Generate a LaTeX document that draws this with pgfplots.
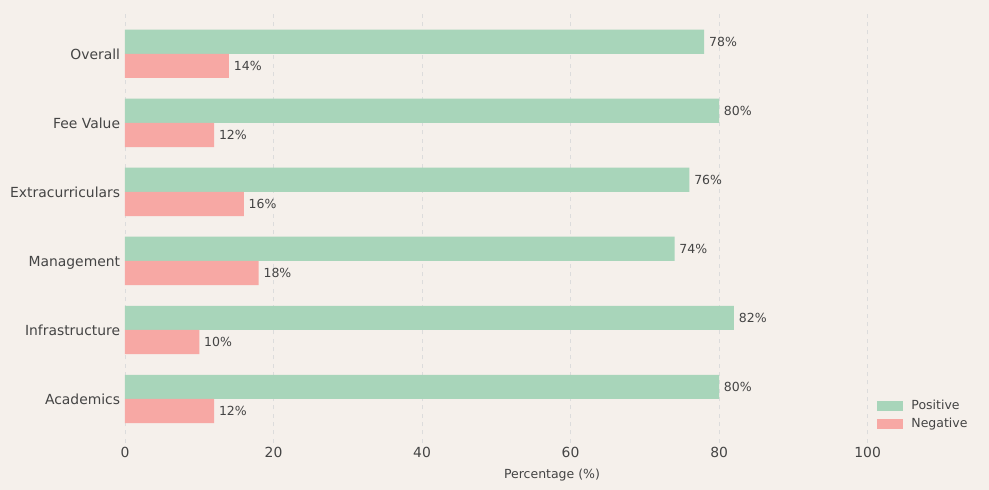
\documentclass[border=0pt]{standalone}
\usepackage{fontspec}
\setmainfont{DejaVu Sans}
\usepackage{pgfplots}
\pgfplotsset{compat=1.18}
\usetikzlibrary{backgrounds}
\definecolor{bgc}{HTML}{F5F0EB}
\definecolor{pos}{HTML}{A8D5BA}
\definecolor{neg}{HTML}{F7A8A4}
\definecolor{txt}{HTML}{444444}
\definecolor{gridc}{HTML}{DCDCDC}
\begin{document}
\begin{tikzpicture}
\begin{axis}[
  scale only axis, width=614.9pt, height=311.6pt,
  xmin=0, xmax=115, ymin=-0.635, ymax=5.635,
  xbar, bar width=0.35,
  axis line style={draw=none},
  major tick length=0pt,
  xtick={0,20,...,100},
  ytick={0,...,5},
  yticklabels={Academics,Infrastructure,Management,Extracurriculars,Fee Value,Overall},
  xmajorgrids, grid style={dashed, gridc, line width=0.6pt},
  ticklabel style={font=\fontsize{10}{12}\selectfont, text=txt},
  yticklabel style={text height=7.3pt, text depth=2.2pt, yshift=-1.4pt},
  /pgf/number format/assume math mode=true,
  xlabel={Percentage (\%)},
  xlabel style={font=\fontsize{9}{11}\selectfont, text=txt, yshift=-0.9pt},
  nodes near coords={\pgfmathprintnumber{\pgfplotspointmeta}\%},
  nodes near coords style={font=\fontsize{9}{11}\selectfont, text=txt, anchor=west},
  legend style={draw=none, fill=none, at={(0.995,0.016)}, anchor=south east,
    font=\fontsize{9}{11}\selectfont, text=txt, row sep=1pt,
    nodes={inner sep=2pt},
    /tikz/every odd column/.append style={column sep=4pt}},
  legend cell align=left,
  legend image code/.code={\fill[#1] (0pt,-3.6pt) rectangle (18.7pt,3.6pt);},
  clip=false,
]
\addplot[fill=pos, draw=none, bar shift=0.175] coordinates {(80,0) (82,1) (74,2) (76,3) (80,4) (78,5)};
\addlegendentry{Positive}
\addplot[fill=neg, draw=none, bar shift=-0.175] coordinates {(12,0) (10,1) (18,2) (16,3) (12,4) (14,5)};
\addlegendentry{Negative}
\coordinate (BL) at (rel axis cs:0,0);
\coordinate (TR) at (rel axis cs:1,1);
\end{axis}
\begin{pgfonlayer}{background}
\fill[bgc] ([shift={(-90pt,-34pt)}]BL) rectangle ([shift={(7.2pt,7.2pt)}]TR);
\end{pgfonlayer}
\end{tikzpicture}
\end{document}
